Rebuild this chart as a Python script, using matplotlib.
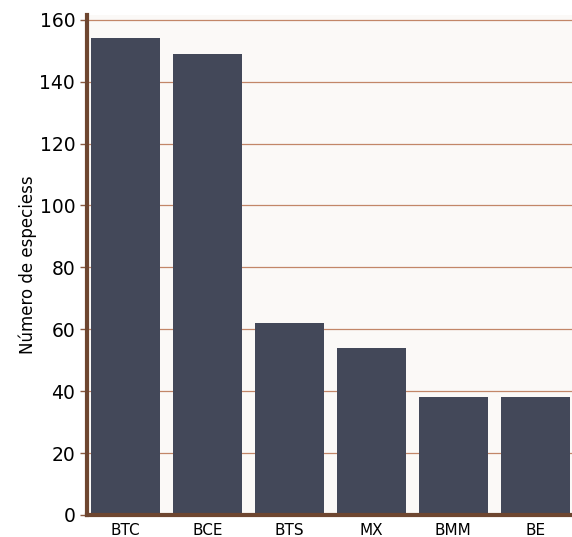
import matplotlib
matplotlib.use('Agg')
import matplotlib.pyplot as plt
import numpy as np

categories = ['BTC', 'BCE', 'BTS', 'MX', 'BMM', 'BE']
values = [154, 149, 62, 54, 38, 38]
yticks = [0, 20, 40, 60, 80, 100, 120, 140, 160]

fig = plt.figure(figsize=(5.72, 5.37), dpi=100)
ax = fig.add_axes([0.152, 0.041, 0.848, 0.931])
ax.set_facecolor('#fbf9f7')

x = np.arange(len(categories))
ax.bar(x, values, width=0.84, color='#434859', zorder=3)

ax.set_xlim(-0.47, 5.45)
ax.set_ylim(0, 161.5)
ax.set_yticks(yticks)
ax.set_xticks(x)
ax.set_xticklabels(categories, fontsize=11)
ax.tick_params(axis='y', labelsize=13.5, length=5, color='#8a5a40', width=1)
ax.tick_params(axis='x', length=0, pad=6)
ax.grid(axis='y', color='#b8724f', linewidth=0.9, alpha=0.85, zorder=1)

for s in ['top', 'right']:
    ax.spines[s].set_visible(False)
for s in ['left', 'bottom']:
    ax.spines[s].set_color('#6e4630')
    ax.spines[s].set_linewidth(3)
    ax.spines[s].set_zorder(4)

ax.set_ylabel('Número de especiess', fontsize=12, labelpad=2)

fig.savefig('out.png', dpi=100)
